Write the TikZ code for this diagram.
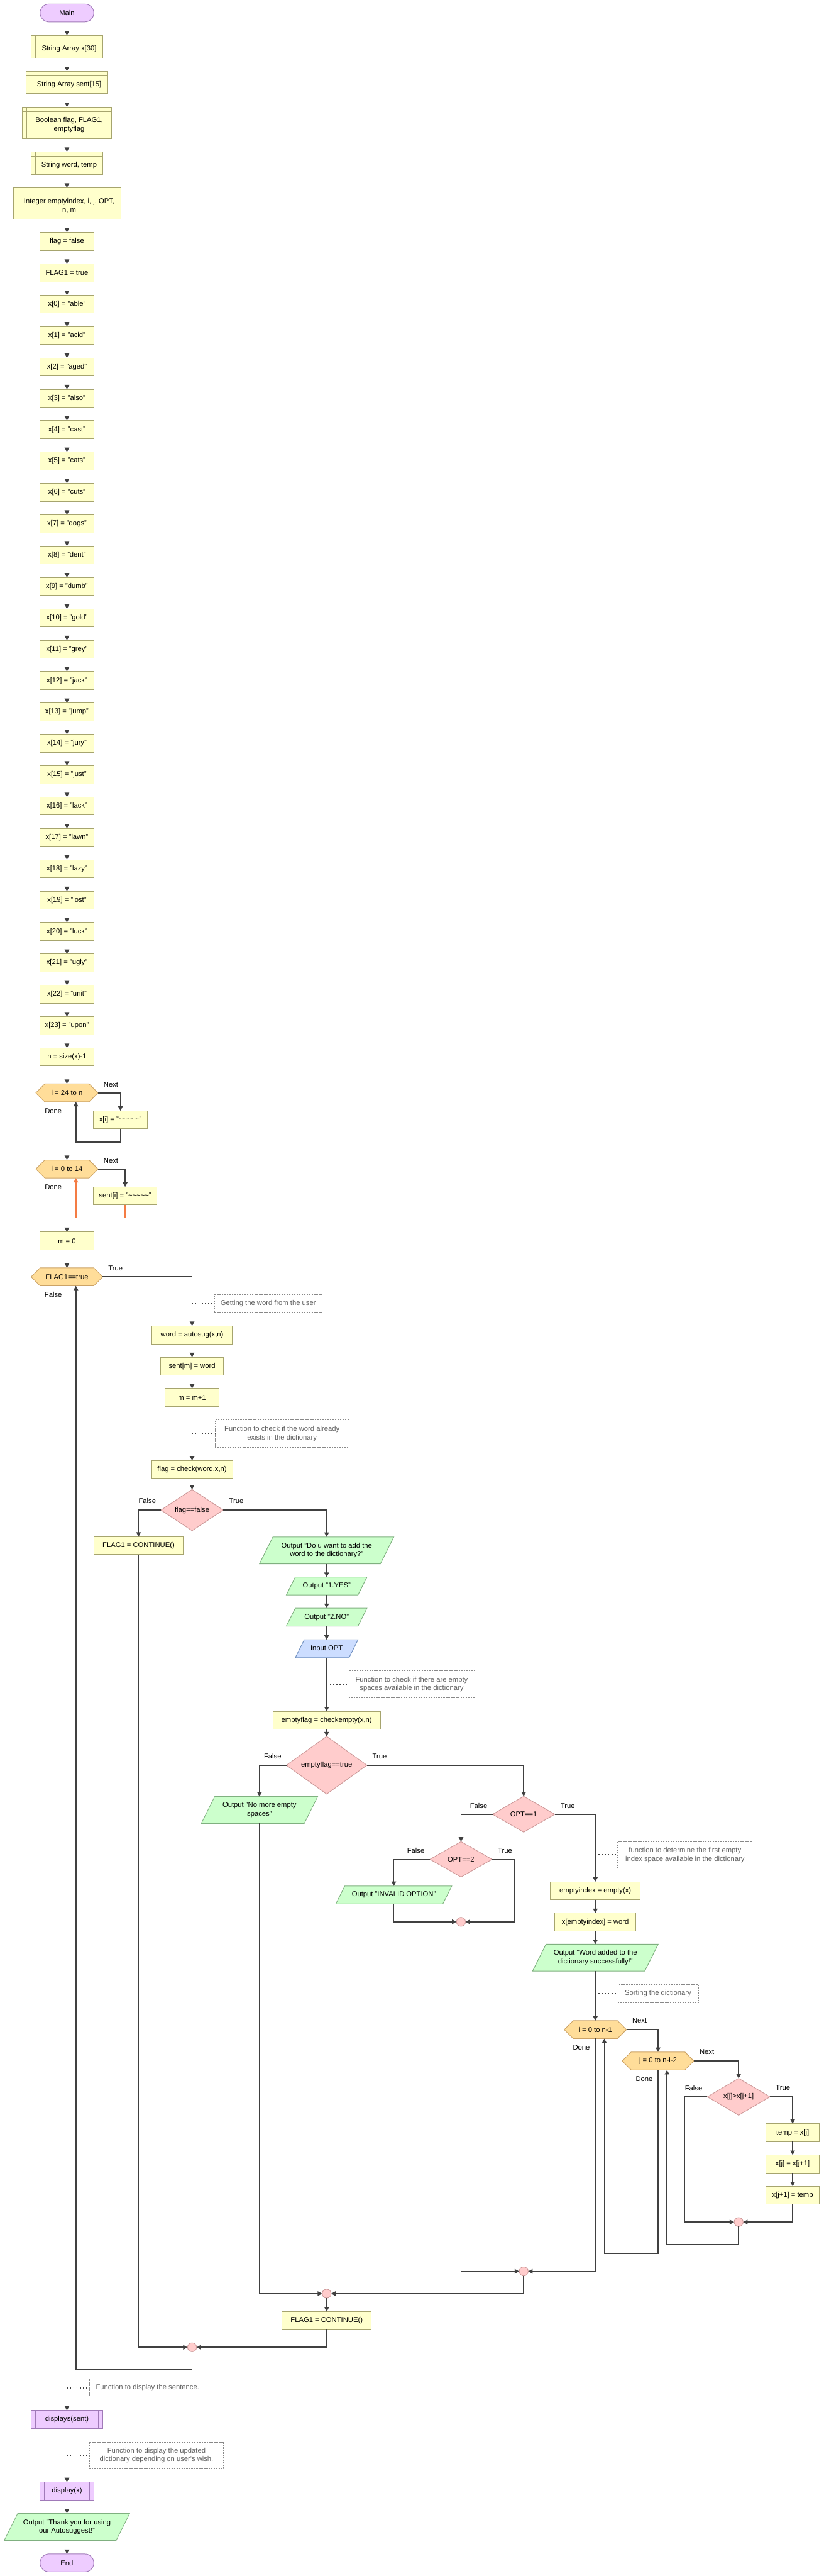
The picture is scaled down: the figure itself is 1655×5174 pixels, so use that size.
\documentclass[tikz,border=0pt]{standalone}
\usepackage{fontspec}
\setmainfont{Liberation Sans}
\usetikzlibrary{arrows.meta,shapes.geometric,backgrounds,calc}
\definecolor{procfill}{HTML}{FFFFCC}
\definecolor{procdraw}{HTML}{A6A46E}
\definecolor{termfill}{HTML}{EECCFF}
\definecolor{termdraw}{HTML}{A07AB8}
\definecolor{loopfill}{HTML}{FFDD99}
\definecolor{loopdraw}{HTML}{CCA366}
\definecolor{decfill}{HTML}{FFCCCC}
\definecolor{decdraw}{HTML}{CC9999}
\definecolor{outfill}{HTML}{CCFFCC}
\definecolor{outdraw}{HTML}{80B080}
\definecolor{infill}{HTML}{CCDDFF}
\definecolor{indraw}{HTML}{6F8FBF}
\definecolor{linec}{HTML}{404040}
\definecolor{orangec}{HTML}{F47C44}
\definecolor{commc}{HTML}{606060}
\definecolor{commb}{HTML}{888888}
\newcommand{\myfs}{\fontsize{14.2pt}{17.3pt}\selectfont}
\newcommand{\hexnode}[5]{%
  \node[base, minimum width=#4pt, minimum height=36pt] (#1) at (#2,#3) {#5};
  \begin{scope}[on background layer]
  \draw[loopshape] (#1.west) -- ([xshift=18pt]#1.north west) -- ([xshift=-18pt]#1.north east) -- (#1.east) -- ([xshift=-18pt]#1.south east) -- ([xshift=18pt]#1.south west) -- cycle;
  \end{scope}}
\newcommand{\pgram}[7]{%
  \node[base, minimum width=#4pt, minimum height=#5pt] (#1) at (#2,#3) {#7};
  \begin{scope}[on background layer]
  \draw[#6] (#1.south west) -- ([xshift=#5pt/2]#1.north west) -- (#1.north east) -- ([xshift=-#5pt/2]#1.south east) -- cycle;
  \end{scope}}
\tikzset{
 base/.style={font=\myfs, inner sep=0pt, outer sep=0pt, align=center, text=black},
 proc/.style={base, rectangle, draw=procdraw, fill=procfill, line width=1.2pt, minimum height=36pt},
 decl/.style={proc, path picture={\draw[procdraw, line width=1.2pt] ([yshift=-9pt]path picture bounding box.north west) -- ([yshift=-9pt]path picture bounding box.north east) ([xshift=9pt]path picture bounding box.north west) -- ([xshift=9pt]path picture bounding box.south west);}},
 callbox/.style={base, rectangle, draw=termdraw, fill=termfill, line width=1.2pt, minimum height=36pt, path picture={\draw[termdraw, line width=1.2pt] ([xshift=9pt]path picture bounding box.north west) -- ([xshift=9pt]path picture bounding box.south west) ([xshift=-9pt]path picture bounding box.north east) -- ([xshift=-9pt]path picture bounding box.south east);}},
 term/.style={base, rectangle, rounded corners=18pt, draw=termdraw, fill=termfill, line width=1.2pt, minimum height=36pt, minimum width=108pt},
 dec/.style={base, diamond, draw=decdraw, fill=decfill, line width=1.2pt},
 junc/.style={circle, draw=decdraw, fill=decfill, line width=1.2pt, minimum size=18pt, inner sep=0pt, outer sep=0pt},
 loopshape/.style={draw=loopdraw, fill=loopfill, line width=1.2pt},
 outshape/.style={draw=outdraw, fill=outfill, line width=1.2pt},
 inshape/.style={draw=indraw, fill=infill, line width=1.2pt},
 comm/.style={base, rectangle, draw=commb, dash pattern=on 3pt off 2pt, line width=1pt, text=commc, fill=white},
 lbl/.style={base},
 arr/.style={draw=linec, line width=2.2pt, -{Triangle[length=9pt,width=9pt]}},
 arro/.style={draw=orangec, line width=2.2pt, -{Triangle[length=9pt,width=9pt]}},
 dotl/.style={draw=linec, line width=2pt, dash pattern=on 2pt off 4.5pt},
}
\begin{document}
\begin{tikzpicture}[x=1pt,y=-1pt]
\begin{scope}[on background layer]
\fill[white] (0,0) rectangle (1655,5174);
\end{scope}
\useasboundingbox (0,0) rectangle (1655,5174);

% ---------- main column ----------
\node[term] (mn) at (134.5,26) {Main};
\node[decl, minimum width=145pt, minimum height=46pt] (d1) at (134.5,94) {};
\node[base] (d1t) at ([xshift=4.5pt,yshift=-4.5pt]d1.center) {String Array x[30]};
\node[decl, minimum width=163pt, minimum height=45pt] (d2) at (134.5,165.5) {};
\node[base] (d2t) at ([xshift=4.5pt,yshift=-4.5pt]d2.center) {String Array sent[15]};
\node[decl, minimum width=180pt, minimum height=63pt] (d3) at (134.5,246.5) {};
\node[base] (d3t) at ([xshift=4.5pt,yshift=-4.5pt]d3.center) {Boolean flag, FLAG1,\\emptyflag};
\node[decl, minimum width=145pt, minimum height=45pt] (d4) at (134.5,327.5) {};
\node[base] (d4t) at ([xshift=4.5pt,yshift=-4.5pt]d4.center) {String word, temp};
\node[decl, minimum width=216pt, minimum height=63pt] (d5) at (134.5,408.5) {};
\node[base] (d5t) at ([xshift=4.5pt,yshift=-4.5pt]d5.center) {Integer emptyindex, i, j, OPT,\\n, m};
\node[proc, minimum width=108pt] (fl) at (134.5,485) {flag = false};
\node[proc, minimum width=108pt] (F1) at (134.5,548) {FLAG1 = true};
\foreach \w [count=\k from 0] in {able,acid,aged,also,cast,cats,cuts,dogs,dent,dumb,gold,grey,jack,jump,jury,just,lack,lawn,lazy,lost,luck,ugly,unit,upon}{
  \node[proc, minimum width=108pt] (x\k) at (134.5,{611+63*\k}) {x[\k] = "\w"};
}
\node[proc, minimum width=108pt] (nsz) at (134.5,2123) {n = size(x)-1};

\draw[arr] (mn) -- (d1);
\draw[arr] (d1) -- (d2);
\draw[arr] (d2) -- (d3);
\draw[arr] (d3) -- (d4);
\draw[arr] (d4) -- (d5);
\draw[arr] (d5) -- (fl);
\draw[arr] (fl) -- (F1);
\draw[arr] (F1) -- (x0);
\foreach \k [evaluate=\k as \kk using int(\k+1)] in {0,...,22}{
  \draw[arr] (x\k) -- (x\kk);
}
\draw[arr] (x23) -- (nsz);

% ---------- loops ----------
\hexnode{h1}{134.5}{2195}{125}{i = 24 to n}
\node[proc, minimum width=108pt] (xi) at (242,2249) {x[i] = "\textasciitilde\textasciitilde\textasciitilde\textasciitilde\textasciitilde"};
\hexnode{h2}{134.5}{2348}{125}{i = 0 to 14}
\node[proc, minimum width=127pt] (si) at (251.5,2402) {sent[i] = "\textasciitilde\textasciitilde\textasciitilde\textasciitilde\textasciitilde"};
\node[proc, minimum width=108pt] (m0) at (134.5,2492.5) {m = 0};
\hexnode{h3}{134.5}{2564.5}{144}{FLAG1==true}

\draw[arr] (nsz) -- (h1);
\draw[arr] (h1.east) -| (xi.north);
\draw[arr] (xi.south) -- ++(0,27) -| ([xshift=18pt]h1.south);
\draw[arr] (h1) -- (h2);
\draw[arr] (h2.east) -| (si.north);
\draw[arro] (si.south) -- ++(0,26) -| ([xshift=18pt]h2.south);
\draw[arr] (h2) -- (m0);
\draw[arr] (m0) -- (h3);

\node[lbl] (ln1) at (223,2178) {Next};
\node[lbl] (ld1) at (107,2232) {Done};
\node[lbl] (ln2) at (223,2331) {Next};
\node[lbl] (ld2) at (107,2385) {Done};
\node[lbl] (lt3) at (232,2547) {True};
\node[lbl] (lf3) at (107,2600) {False};

% ---------- while body ----------
\node[proc, minimum width=162pt] (w1) at (386,2681.5) {word = autosug(x,n)};
\node[proc, minimum width=127pt] (sm) at (386,2744) {sent[m] = word};
\node[proc, minimum width=108pt] (mm) at (386,2807) {m = m+1};
\node[proc, minimum width=163pt] (fc) at (386,2951.5) {flag = check(word,x,n)};
\node[dec, minimum width=125pt, minimum height=72pt] (dm1) at (386,3033) {flag==false};
\node[proc, minimum width=180pt] (f1) at (278.5,3104.5) {FLAG1 = CONTINUE()};
\node[comm, minimum width=216pt, minimum height=36pt] (c1) at (539,2618) {Getting the word from the user};
\node[comm, minimum width=269.5pt, minimum height=55pt] (c2) at (566.75,2879.5) {Function to check if the word already\\exists in the dictionary};

\draw[arr] (h3.east) -| (w1.north);
\draw[dotl] (c1.west -| w1.center) -- (c1.west);
\draw[arr] (w1) -- (sm);
\draw[arr] (sm) -- (mm);
\draw[arr] (mm) -- (fc);
\draw[dotl] (c2.west -| mm.center) -- (c2.west);
\draw[arr] (fc) -- (dm1);
\draw[arr] (dm1.west) -| (f1.north);
\node[lbl] (lf1) at (296,3015) {False};
\node[lbl] (lt1) at (475,3015) {True};

\pgram{o1}{656.5}{3114}{270}{54}{outshape}{Output "Do u want to add the\\word to the dictionary?"}
\pgram{o2}{656.5}{3185.5}{162}{36}{outshape}{Output "1.YES"}
\pgram{o3}{656.5}{3248}{162}{36}{outshape}{Output "2.NO"}
\pgram{i1}{656.5}{3311.5}{126}{36}{inshape}{Input OPT}
\node[comm, minimum width=252.6pt, minimum height=54pt] (c3) at (827.3,3383) {Function to check if there are empty\\spaces available in the dictionary};
\node[proc, minimum width=216pt] (ce) at (656.5,3455.5) {emptyflag = checkempty(x,n)};
\node[dec, minimum width=162pt, minimum height=91pt] (dm2) at (656.5,3545.5) {emptyflag==true};

\draw[arr] (dm1.east) -| (o1.north);
\draw[arr] (o1) -- (o2);
\draw[arr] (o2) -- (o3);
\draw[arr] (o3) -- (i1);
\draw[arr] (i1) -- (ce);
\draw[dotl] (c3.west -| ce.center) -- (c3.west);
\draw[arr] (ce) -- (dm2);
\node[lbl] (lf2) at (548,3527.7) {False};
\node[lbl] (lt2) at (763,3527.7) {True};

\pgram{o4}{521.5}{3635.4}{234}{54}{outshape}{Output "No more empty\\spaces"}
\node[dec, minimum width=125pt, minimum height=72pt] (dm3) at (1052.5,3644) {OPT==1};
\node[dec, minimum width=125pt, minimum height=71pt] (dm4) at (926.5,3734.5) {OPT==2};
\pgram{o5}{791.5}{3806}{233}{36}{outshape}{Output "INVALID OPTION"}
\node[junc] (j1) at (926.5,3860) {};

\draw[arr] (dm2.west) -| (o4.north);
\draw[arr] (dm2.east) -| (dm3.north);
\draw[arr] (dm3.west) -| (dm4.north);
\draw[arr] (dm4.west) -| (o5.north);
\draw[arr] (o5.south) |- (j1.west);
\draw[arr] (dm4.east) -- ++(44.7,0) |- (j1.east);
\node[lbl] (lf4) at (962,3627) {False};
\node[lbl] (lt4) at (1141,3627) {True};
\node[lbl] (lf5) at (835.6,3717) {False};
\node[lbl] (lt5) at (1015,3717) {True};

% ---------- add word & sort ----------
\node[comm, minimum width=270.3pt, minimum height=53.3pt] (c4) at (1376.6,3725.4) {function to determine the first empty\\index space available in the dictionary};
\node[proc, minimum width=180.7pt] (e1) at (1196.5,3797.5) {emptyindex = empty(x)};
\node[proc, minimum width=163pt] (e2) at (1196.5,3860.5) {x[emptyindex] = word};
\pgram{o6}{1196.5}{3932}{252.5}{54}{outshape}{Output "Word added to the\\dictionary successfully!"}
\node[comm, minimum width=162pt, minimum height=36pt] (c5) at (1322.6,4004.3) {Sorting the dictionary};
\hexnode{h4}{1196.5}{4076.5}{125}{i = 0 to n-1}
\hexnode{h5}{1322.5}{4139.5}{144}{j = 0 to n-i-2}
\node[dec, minimum width=126pt, minimum height=71pt] (dm5) at (1484.5,4211.5) {x[j]>x[j+1]};
\node[proc, minimum width=108pt] (t1) at (1593,4283.6) {temp = x[j]};
\node[proc, minimum width=108pt] (t2) at (1593,4346.5) {x[j] = x[j+1]};
\node[proc, minimum width=108pt] (t3) at (1593,4409.3) {x[j+1] = temp};
\node[junc] (j3) at (1484.5,4463) {};

\draw[arr] (dm3.east) -| (e1.north);
\draw[dotl] (c4.west -| e1.center) -- (c4.west);
\draw[arr] (e1) -- (e2);
\draw[arr] (e2) -- (o6);
\draw[arr] (o6) -- (h4);
\draw[dotl] (c5.west -| h4.center) -- (c5.west);
\draw[arr] (h4.east) -| (h5.north);
\draw[arr] (h5.east) -| (dm5.north);
\draw[arr] (dm5.east) -| (t1.north);
\draw[arr] (t1) -- (t2);
\draw[arr] (t2) -- (t3);
\draw[arr] (t3.south) |- (j3.east);
\draw[arr] (dm5.west) -- ++(-46,0) |- (j3.west);
\draw[arr] (j3.south) -- ++(0,35.7) -| ([xshift=18pt]h5.south);
\draw[arr] (h5.south) -- ++(0,368) -| ([xshift=18pt]h4.south);
\node[lbl] (ln4) at (1285.5,4058.5) {Next};
\node[lbl] (ld4) at (1168.5,4112.5) {Done};
\node[lbl] (ln5) at (1420.6,4121.4) {Next};
\node[lbl] (ld5) at (1294.8,4176) {Done};
\node[lbl] (lf6) at (1394,4193.75) {False};
\node[lbl] (lt6) at (1573.5,4193.75) {True};

% ---------- merges ----------
\node[junc] (j2) at (1052.5,4562) {};
\node[junc] (j4) at (656.5,4606.7) {};
\node[proc, minimum width=180pt] (f2) at (656.5,4661) {FLAG1 = CONTINUE()};
\node[junc] (j5) at (386,4714.5) {};

\draw[arr] (h4.south) |- (j2.east);
\draw[arr] (j1.south) |- (j2.west);
\draw[arr] (j2.south) |- (j4.east);
\draw[arr] (o4.south) |- (j4.west);
\draw[arr] (j4) -- (f2);
\draw[arr] (f2.south) |- (j5.east);
\draw[arr] (f1.south) |- (j5.west);
\draw[arr] (j5.south) -- ++(0,36) -| ([xshift=18pt]h3.south);

% ---------- ending ----------
\node[comm, minimum width=234pt, minimum height=36pt] (c6) at (296.5,4796) {Function to display the sentence.};
\node[callbox, minimum width=144pt] (cl1) at (134.5,4859.5) {displays(sent)};
\node[comm, minimum width=270pt, minimum height=53.5pt] (c7) at (314.5,4931.5) {Function to display the updated\\dictionary depending on user\textquotesingle s wish.};
\node[callbox, minimum width=108pt] (cl2) at (134.5,5003.5) {display(x)};
\pgram{o7}{134.5}{5075.4}{252}{54}{outshape}{Output "Thank you for using\\our Autosuggest!"}
\node[term] (en) at (134.5,5147.6) {End};

\draw[arr] (h3) -- (cl1);
\draw[dotl] (c6.west -| cl1.center) -- (c6.west);
\draw[arr] (cl1) -- (cl2);
\draw[dotl] (c7.west -| cl2.center) -- (c7.west);
\draw[arr] (cl2) -- (o7);
\draw[arr] (o7) -- (en);
\end{tikzpicture}
\end{document}
